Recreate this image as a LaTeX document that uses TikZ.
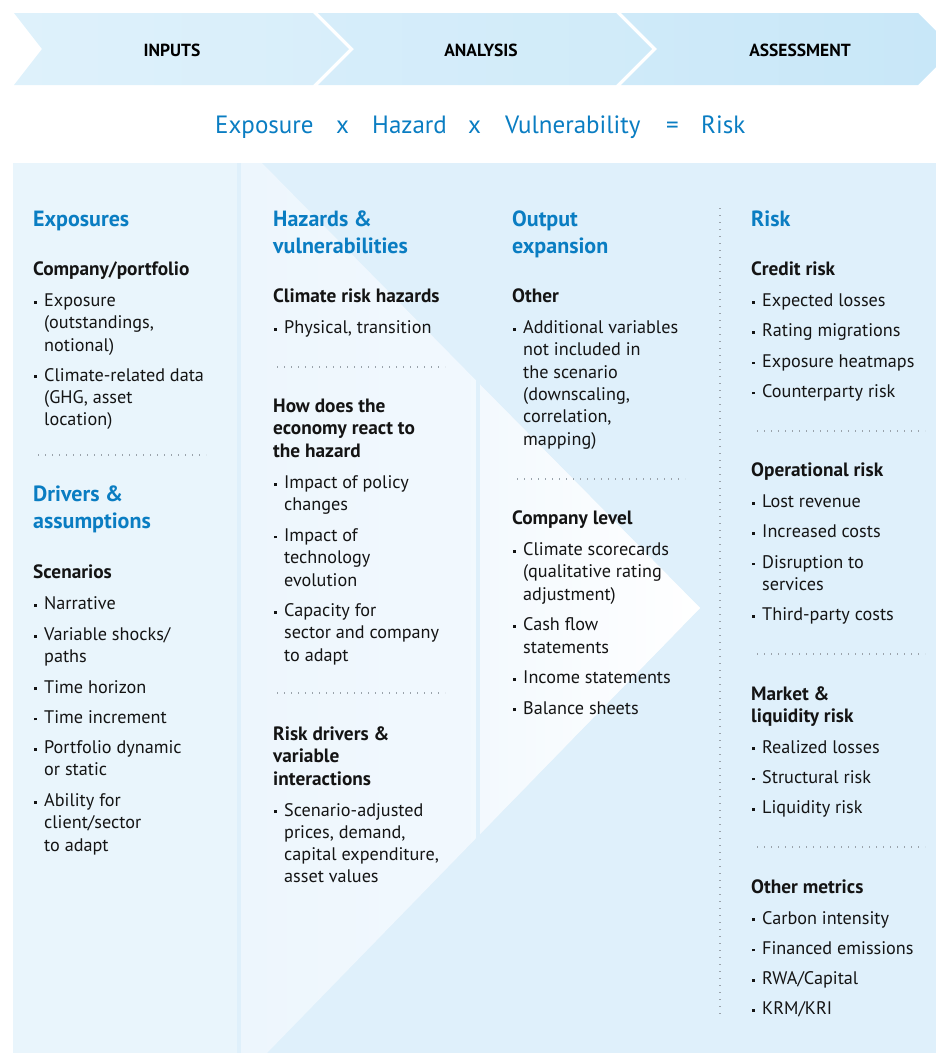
\documentclass[tikz,border=0pt]{standalone}
\usepackage{fontspec}
\setmainfont{PT Sans}
\usetikzlibrary{positioning}

\definecolor{bmoblue}{HTML}{0A7DC2}
\definecolor{panelbg}{HTML}{DFF0FB}
\definecolor{leftbg}{HTML}{E9F5FC}
\definecolor{bodytxt}{HTML}{141414}
\definecolor{dotgray}{HTML}{9AA3AB}

\newcommand{\bul}{\llap{\rule[3pt]{2.6pt}{2.6pt}\hspace{7.5pt}}}

\begin{document}
\begin{tikzpicture}[x=1pt,y=-1pt,
  tab/.style={inner sep=0pt, font=\fontsize{17.5}{20}\selectfont\bfseries, text=black},
  eq/.style={anchor=base west, inner sep=0pt, text=bmoblue, font=\fontsize{25}{30}\selectfont},
  hd/.style={anchor=base west, inner sep=0pt, align=left, text=bmoblue, font=\fontsize{22}{27}\selectfont\bfseries},
  sub/.style={anchor=base west, inner sep=0pt, align=left, text=bodytxt, font=\fontsize{19.3}{22.3}\selectfont\bfseries},
  itm/.style={anchor=base west, inner sep=0pt, align=left, text=bodytxt, font=\fontsize{18.2}{22.3}\selectfont},
  sep/.style={dotgray, line width=1.2pt, dash pattern=on 1.2pt off 5.8pt}]
\useasboundingbox (0,0) rectangle (936,1053);

%Chevrons:
\shade[left color={rgb,255:red,222;green,241;blue,251}, right color={rgb,255:red,216;green,238;blue,250}]
  (14,13) -- (313,13) -- (349,49) -- (313,85) -- (14,85) -- (42,49) -- cycle;
\shade[left color={rgb,255:red,214;green,237;blue,250}, right color={rgb,255:red,208;green,235;blue,249}]
  (318,13) -- (616,13) -- (652,49) -- (616,85) -- (318,85) -- (354,49) -- cycle;
\shade[left color={rgb,255:red,207;green,234;blue,249}, right color={rgb,255:red,200;green,231;blue,248}]
  (621,13) -- (918,13) -- (936,31) -- (936,67) -- (918,85) -- (621,85) -- (657,49) -- cycle;
\node (IN) [tab] at (172,50) {INPUTS};
\node (AN) [tab] at (481,50) {ANALYSIS};
\node (AS) [tab] at (800,50) {ASSESSMENT};

%Equation:
\node (fE) [eq] at (215,133) {Exposure};
\node (fX1) [eq] at (336,133) {x};
\node (fH) [eq] at (372,133) {Hazard};
\node (fX2) [eq] at (468,133) {x};
\node (fV) [eq] at (505,133) {Vulnerability};
\node (fEq) [eq] at (666,133) {=};
\node (fR) [eq] at (701,133) {Risk};

%Panel:
\fill[panelbg] (13,163) rectangle (936,1053);
\fill[leftbg] (13,163) rectangle (237,1053);
\shade[left color={rgb,255:red,237;green,246;blue,253}, right color={rgb,255:red,246;green,251;blue,255}]
  (241,163) -- (262,163) -- (700,608) -- (267,1053) -- (241,1053) -- cycle;
\fill[panelbg] (476,380) rectangle (480,838);
\shade[left color={rgb,255:red,243;green,249;blue,254}, right color=white]
  (480,384.5) -- (700,608) -- (480,834) -- cycle;

%Inputs column (multi-line nodes sit on their last baseline):
\node (Exp) [hd] at (33,226) {Exposures};
\node (CP) [sub] at (33,275.5) {Company/portfolio};
\node (CP1) [itm] at (44,351.1) {\bul Exposure\\(outstandings,\\notional)};
\node (CP2) [itm] at (44,425.6) {\bul Climate-related data\\(GHG, asset\\location)};
\draw[sep] (38,455) -- (206,455);
\node (Drv) [hd] at (33,528.5) {Drivers \&\\assumptions};
\node (Sc) [sub] at (33,578.5) {Scenarios};
\node (Sc1) [itm] at (44,609.5) {\bul Narrative};
\node (Sc2) [itm] at (44,662.8) {\bul Variable shocks/\\paths};
\node (Sc3) [itm] at (44,693) {\bul Time horizon};
\node (Sc4) [itm] at (44,723.3) {\bul Time increment};
\node (Sc5) [itm] at (44,775.9) {\bul Portfolio dynamic\\or static};
\node (Sc6) [itm] at (44,851.1) {\bul Ability for\\client/sector\\to adapt};

%Analysis column:
\node (Haz) [hd] at (273,253) {Hazards \&\\vulnerabilities};
\node (CR) [sub] at (273,302.5) {Climate risk hazards};
\node (CR1) [itm] at (284,333.5) {\bul Physical, transition};
\draw[sep] (277,367) -- (445,367);
\node (Eco) [sub] at (273,457.1) {How does the\\economy react to\\the hazard};
\node (Eco1) [itm] at (284,510.8) {\bul Impact of policy\\changes};
\node (Eco2) [itm] at (284,586) {\bul Impact of\\technology\\evolution};
\node (Eco3) [itm] at (284,661.2) {\bul Capacity for\\sector and company\\to adapt};
\draw[sep] (277,693) -- (445,693);
\node (RD) [sub] at (273,785.1) {Risk drivers \&\\variable\\interactions};
\node (RD1) [itm] at (284,882.9) {\bul Scenario-adjusted\\prices, demand,\\capital expenditure,\\asset values};

%Output column:
\node (Out) [hd] at (512,253) {Output\\expansion};
\node (Oth) [sub] at (512,302.5) {Other};
\node (Oth1) [itm] at (523,445) {\bul Additional variables\\not included in\\the scenario\\(downscaling,\\correlation,\\mapping)};
\draw[sep] (517,479) -- (685,479);
\node (CL) [sub] at (512,524.5) {Company level};
\node (CL1) [itm] at (523,600.1) {\bul Climate scorecards\\(qualitative rating\\adjustment)};
\node (CL2) [itm] at (523,653) {\bul Cash flow\\statements};
\node (CL3) [itm] at (523,683.6) {\bul Income statements};
\node (CL4) [itm] at (523,714) {\bul Balance sheets};

%Assessment column:
\draw[sep] (720,208) -- (720,1018);
\node (Rsk) [hd] at (751,226) {Risk};
\node (Cr) [sub] at (751,275.5) {Credit risk};
\node (Cr1) [itm] at (762,306.5) {\bul Expected losses};
\node (Cr2) [itm] at (762,336.8) {\bul Rating migrations};
\node (Cr3) [itm] at (762,367.1) {\bul Exposure heatmaps};
\node (Cr4) [itm] at (762,397.4) {\bul Counterparty risk};
\draw[sep] (757,431) -- (925,431);
\node (Op) [sub] at (751,476.5) {Operational risk};
\node (Op1) [itm] at (762,507.5) {\bul Lost revenue};
\node (Op2) [itm] at (762,537.8) {\bul Increased costs};
\node (Op3) [itm] at (762,590.4) {\bul Disruption to\\services};
\node (Op4) [itm] at (762,620.7) {\bul Third-party costs};
\draw[sep] (757,654) -- (925,654);
\node (Mk) [sub] at (751,722.8) {Market \&\\liquidity risk};
\node (Mk1) [itm] at (762,753) {\bul Realized losses};
\node (Mk2) [itm] at (762,783.3) {\bul Structural risk};
\node (Mk3) [itm] at (762,813.6) {\bul Liquidity risk};
\draw[sep] (757,847) -- (925,847);
\node (OM) [sub] at (751,893.5) {Other metrics};
\node (OM1) [itm] at (762,924) {\bul Carbon intensity};
\node (OM2) [itm] at (762,954.3) {\bul Financed emissions};
\node (OM3) [itm] at (762,984.6) {\bul RWA/Capital};
\node (OM4) [itm] at (762,1014.9) {\bul KRM/KRI};
\end{tikzpicture}
\end{document}
